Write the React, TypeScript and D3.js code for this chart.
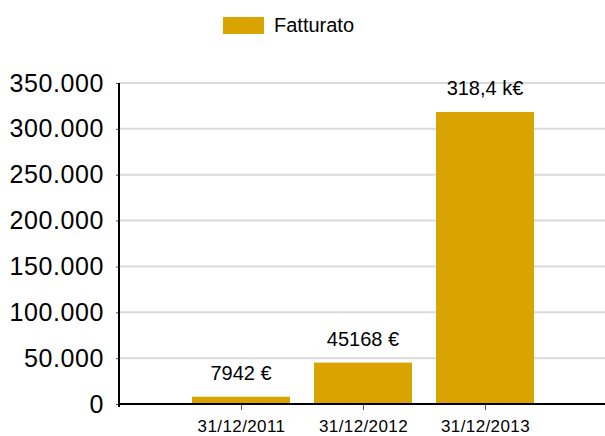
// bar chart of revenue (fatturato) drawn with d3
import * as d3 from "d3";
import { useEffect, useRef } from "react";

const categories = ["31/12/2011", "31/12/2012", "31/12/2013"];
const values = [7942, 45168, 318400];
const valueLabels = ["7942 €", "45168 €", "318,4 k€"];
const yTicks = [0, 50000, 100000, 150000, 200000, 250000, 300000, 350000];
const seriesName = "Fatturato";

export default function App() {
  const svgRef = useRef<SVGSVGElement>(null);

  useEffect(() => {
    document.body.style.margin = "0";
    const width = 605;
    const height = 436;
    const margin = { top: 83, right: 0, bottom: 32, left: 119 };
    const font = "'Liberation Sans', Arial, sans-serif";
    const color = "#d9a400";

    const svg = d3.select(svgRef.current);
    svg.selectAll("*").remove();
    svg.attr("width", width).attr("height", height);

    const itLocale = d3.formatLocale({
      decimal: ",",
      thousands: ".",
      grouping: [3],
      currency: ["", " €"],
    });
    const fmt = itLocale.format(",d");

    // scales
    const x = d3
      .scalePoint()
      .domain(categories)
      .range([margin.left, 607])
      .padding(1);
    const y = d3
      .scaleLinear()
      .domain([0, 350000])
      .range([height - margin.bottom, margin.top]);
    const barWidth = 98;

    // gridlines
    svg
      .append("g")
      .selectAll("line")
      .data(yTicks.filter((d) => d > 0))
      .enter()
      .append("line")
      .attr("x1", margin.left)
      .attr("x2", width)
      .attr("y1", (d) => y(d))
      .attr("y2", (d) => y(d))
      .style("stroke", "#dadada")
      .style("stroke-width", 2);

    // bars
    svg
      .append("g")
      .selectAll("rect")
      .data(values)
      .enter()
      .append("rect")
      .attr("x", (d, i) => (x(categories[i]) as number) - barWidth / 2)
      .attr("y", (d) => y(d))
      .attr("width", barWidth)
      .attr("height", (d) => y(0) - y(d))
      .style("fill", color);

    // value labels above bars
    svg
      .append("g")
      .selectAll("text")
      .data(values)
      .enter()
      .append("text")
      .attr("x", (d, i) => x(categories[i]) as number)
      .attr("y", (d) => y(d) - 17)
      .attr("text-anchor", "middle")
      .text((d, i) => valueLabels[i])
      .style("font-family", font)
      .style("font-size", "20px")
      .style("fill", "#000");

    // Y axis
    const yAxis = svg
      .append("g")
      .attr("transform", "translate(" + margin.left + ",0)")
      .call(d3.axisLeft(y).tickValues(yTicks).tickFormat((d) => fmt(+d)).tickSize(3).tickPadding(12));
    yAxis.select(".domain").remove();
    yAxis.selectAll(".tick line").style("stroke", "#555").style("stroke-width", 1);
    yAxis
      .selectAll(".tick text")
      .style("font-family", font)
      .style("font-size", "25px")
      .style("letter-spacing", "0.6px")
      .style("fill", "#000");
    svg
      .append("line")
      .attr("x1", margin.left)
      .attr("x2", margin.left)
      .attr("y1", y(350000))
      .attr("y2", y(0) + 3)
      .style("stroke", "#000")
      .style("stroke-width", 2);

    // X axis
    const xAxis = svg
      .append("g")
      .attr("transform", "translate(0," + y(0) + ")")
      .call(d3.axisBottom(x).tickSize(6).tickPadding(10));
    xAxis.select(".domain").remove();
    xAxis.selectAll(".tick line").style("stroke", "#555").style("stroke-width", 1);
    xAxis
      .selectAll(".tick text")
      .style("font-family", font)
      .style("font-size", "17px")
      .style("letter-spacing", "0.4px")
      .style("fill", "#000");
    svg
      .append("line")
      .attr("x1", margin.left - 1)
      .attr("x2", width)
      .attr("y1", y(0))
      .attr("y2", y(0))
      .style("stroke", "#000")
      .style("stroke-width", 2);

    // legend
    const legend = svg.append("g");
    legend
      .append("rect")
      .attr("x", 223)
      .attr("y", 17)
      .attr("width", 41)
      .attr("height", 17)
      .style("fill", color);
    legend
      .append("text")
      .attr("x", 274)
      .attr("y", 32)
      .text(seriesName)
      .style("font-family", font)
      .style("font-size", "20px")
      .style("fill", "#000");
  }, []);

  return <svg ref={svgRef} style={{ display: "block" }} />;
}
